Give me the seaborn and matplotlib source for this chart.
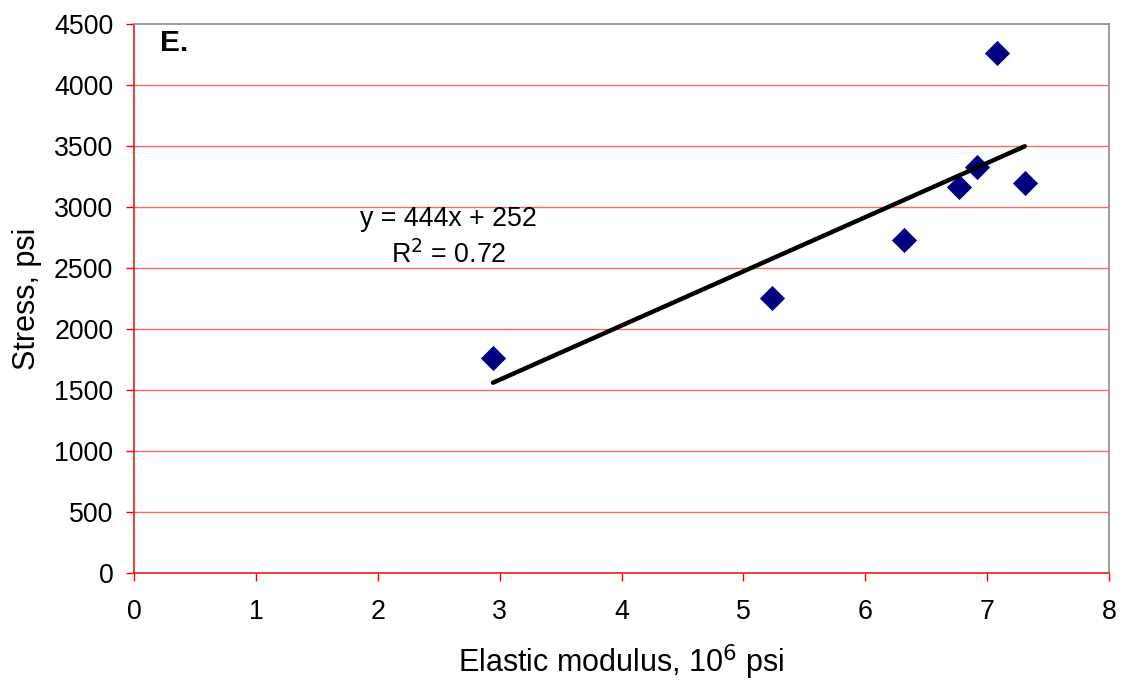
import matplotlib
matplotlib.use("Agg")
import matplotlib.pyplot as plt
import seaborn as sns
import pandas as pd
import numpy as np

# Elastic modulus (10^6 psi) vs. stress (psi)
modulus = [2.945, 5.234, 6.317, 6.768, 6.915, 7.080, 7.309]
stress = [1762, 2254, 2730, 3164, 3328, 4262, 3197]

# Linear trend line coefficients
slope = 444
intercept = 252
r_squared = 0.72

x_ticks = [0, 1, 2, 3, 4, 5, 6, 7, 8]
y_ticks = [0, 500, 1000, 1500, 2000, 2500, 3000, 3500, 4000, 4500]

df = pd.DataFrame({"modulus": modulus, "stress": stress})

sns.set_style("white")
plt.rcParams["font.family"] = ["Liberation Sans", "DejaVu Sans"]
plt.rcParams["text.color"] = "black"
plt.rcParams["axes.labelcolor"] = "black"

FS = 19.3
LABEL_FS = 22

fig = plt.figure(figsize=(11.27, 6.83), dpi=100)
ax = fig.add_axes([0.119, 0.161, 0.865, 0.804])

grid_color = "#FF6666"
for yv in y_ticks[1:-1]:
    ax.axhline(yv, color=grid_color, lw=1.0, zorder=0)

sns.scatterplot(data=df, x="modulus", y="stress", marker="D", s=165,
                color="#000080", edgecolor="#000080", linewidth=0, ax=ax, zorder=3)

xs = np.array([min(modulus), max(modulus)])
ax.plot(xs, slope * xs + intercept, color="black", lw=3.2,
        solid_capstyle="round", zorder=4)

ax.set_xlim(0, 8)
ax.set_ylim(0, 4500)
ax.set_xticks(x_ticks)
ax.set_yticks(y_ticks)
ax.tick_params(axis="both", which="major", bottom=True, left=True,
               direction="out", length=6, width=1.0, color="#FF0000",
               labelcolor="black", labelsize=FS, pad=9)
ax.tick_params(axis="x", pad=13)

for side in ["left", "bottom"]:
    ax.spines[side].set_color("#E02020")
    ax.spines[side].set_linewidth(1.2)
for side in ["top", "right"]:
    ax.spines[side].set_visible(True)
    ax.spines[side].set_color("#8C8C8C")
    ax.spines[side].set_linewidth(1.2)

ax.set_xlabel("Elastic modulus, 10$^6$ psi", fontsize=LABEL_FS, labelpad=12)
ax.set_ylabel("Stress, psi", fontsize=LABEL_FS, labelpad=9)

ax.text(0.21, 4344, "E.", fontsize=21.5, fontweight="bold", va="center", ha="left")
ax.text(2.576, 2902, f"y = {slope}x + {intercept}", fontsize=FS,
        ha="center", va="center")
ax.text(2.576, 2607, f"R$^2$ = {r_squared:.2f}", fontsize=FS,
        ha="center", va="center")

fig.savefig("out.png", dpi=100)
